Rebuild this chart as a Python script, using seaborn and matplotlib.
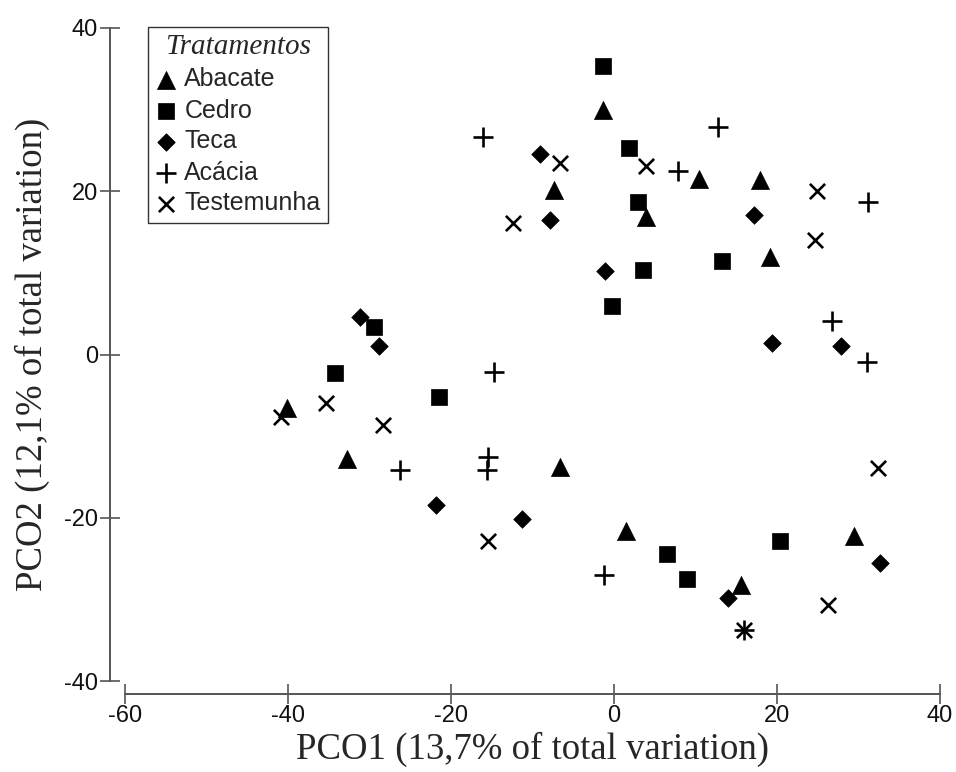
import matplotlib
matplotlib.use("Agg")
import matplotlib.pyplot as plt
import seaborn as sns

# PCO scores, one list pair per treatment
abacate_x = [-1.4, 10.4, 17.9, -7.4, 3.9, 19.1, -40.1, -32.7, -6.6, 1.5, 29.5, 15.6]
abacate_y = [29.9, 21.5, 21.4, 20.2, 16.9, 11.9, -6.6, -12.8, -13.8, -21.6, -22.2, -28.2]

cedro_x = [-1.3, 1.9, 3.0, 13.2, 3.6, -0.2, -29.4, -34.2, -21.5, 20.4, 6.5, 8.9]
cedro_y = [35.3, 25.3, 18.7, 11.4, 10.4, 5.9, 3.4, -2.3, -5.2, -22.9, -24.5, -27.5]

teca_x = [-9.1, -7.9, 17.2, -1.1, 19.4, 27.9, -31.2, -28.8, -21.8, -11.3, 32.6, 14.0]
teca_y = [24.6, 16.5, 17.1, 10.2, 1.4, 1.0, 4.6, 1.1, -18.4, -20.1, -25.5, -29.8]

acacia_x = [12.8, -16.1, 7.8, 31.2, 26.8, 31.1, -14.7, -26.3, -15.5, -15.6, -1.2, 16.0]
acacia_y = [27.9, 26.6, 22.5, 18.7, 4.1, -0.9, -2.1, -14.2, -12.6, -14.2, -27.0, -33.7]

testemunha_x = [-6.6, 3.9, 24.9, -12.4, 24.7, -35.3, -40.9, -28.4, -15.5, 32.4, 26.2, 16.0]
testemunha_y = [23.4, 23.1, 20.0, 16.1, 14.0, -6.0, -7.6, -8.6, -22.8, -13.9, -30.7, -33.7]

groups = ["Abacate", "Cedro", "Teca", "Acácia", "Testemunha"]
xs = [abacate_x, cedro_x, teca_x, acacia_x, testemunha_x]
ys = [abacate_y, cedro_y, teca_y, acacia_y, testemunha_y]
markers = ["^", "s", "D", "+", "x"]
sizes = [170, 120, 80, 210, 120]

x_ticks = [-60, -40, -20, 0, 20, 40]
y_ticks = [-40, -20, 0, 20, 40]

sns.set_style("white")
plt.rcParams["font.family"] = ["Liberation Sans", "DejaVu Sans"]
plt.rcParams["axes.unicode_minus"] = False

fig = plt.figure(figsize=(9.56, 7.72), dpi=100)
ax = fig.add_axes([125 / 956, 91 / 772, 815 / 956, 653 / 772])

for name, gx, gy, m, s in zip(groups, xs, ys, markers, sizes):
    if m in ("+", "x"):
        sns.scatterplot(x=gx, y=gy, marker=m, s=s, color="black",
                        linewidth=1.9, label=name, ax=ax)
    else:
        sns.scatterplot(x=gx, y=gy, marker=m, s=s, color="black",
                        edgecolor="black", linewidth=0.5, label=name, ax=ax)

ax.set_xlim(-60, 40)
ax.set_ylim(-40, 40)
ax.set_xticks(x_ticks)
ax.set_yticks(y_ticks)

for side in ["top", "right"]:
    ax.spines[side].set_visible(False)
ax.spines["left"].set_position(("outward", 11))
ax.spines["bottom"].set_position(("outward", 9))
for side in ["left", "bottom"]:
    ax.spines[side].set_color("#555555")
    ax.spines[side].set_linewidth(1.4)

ax.tick_params(axis="both", bottom=True, left=True, direction="inout",
               length=15, width=1.2, color="#555555", labelsize=17,
               labelcolor="#111111", pad=1)

serif = ["Liberation Serif", "DejaVu Serif"]
ax.set_xlabel("PCO1 (13,7% of total variation)", fontsize=26.5, family=serif)
ax.set_ylabel("PCO2 (12,1% of total variation)", fontsize=26.5, family=serif)
ax.xaxis.set_label_coords(0.5, -0.077)
ax.yaxis.set_label_coords(-0.092, 0.5)

leg = ax.legend(loc="upper left", bbox_to_anchor=(148 / 956, 1 - 27 / 772),
                bbox_transform=fig.transFigure, borderaxespad=0,
                frameon=True, fancybox=False, framealpha=1,
                prop={"family": "Liberation Sans", "size": 18},
                title="Tratamentos", handlelength=0.8, handletextpad=0.35,
                labelspacing=0.28, borderpad=0.3)
leg.get_title().set_fontproperties({"family": serif, "style": "italic", "size": 21})
leg.get_frame().set_edgecolor("#333333")
leg.get_frame().set_linewidth(1.0)

fig.savefig("out.png", dpi=100, facecolor="white")
